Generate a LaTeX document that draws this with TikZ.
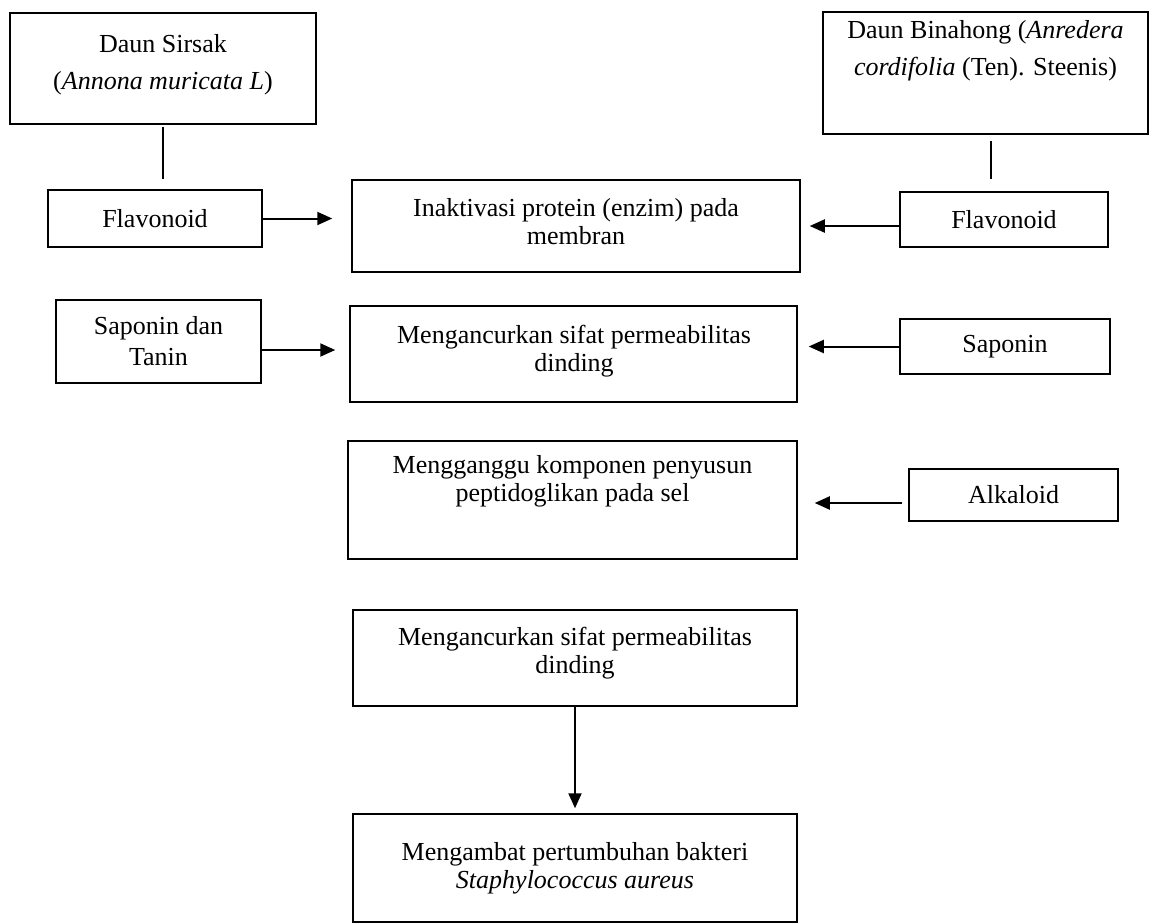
\documentclass[tikz,border=0pt]{standalone}
\usepackage{fontspec}
\setmainfont{Liberation Serif}
\usetikzlibrary{arrows.meta}
\begin{document}
\begin{tikzpicture}[x=1pt,y=-1pt,
  box/.style={draw, line width=1.5pt, inner sep=0pt},
  txt/.style={align=center, font=\fontsize{26}{28}\selectfont, inner sep=0pt},
  toptxt/.style={align=center, font=\fontsize{26}{37}\selectfont, inner sep=0pt},
  arr/.style={line width=2pt, -{Triangle[length=15pt,width=13pt]}},
  ln/.style={line width=1.5pt}]
\useasboundingbox (0,0) rectangle (1149,924);
% boxes
\node[box, minimum width=306pt, minimum height=111pt] (sirsak) at (163,68.5) {};
\node[box, minimum width=325pt, minimum height=122pt] (bin) at (985.5,73) {};
\node[box, minimum width=214pt, minimum height=57pt, txt] (flavL) at (155,218.5) {Flavonoid};
\node[box, minimum width=448pt, minimum height=92pt] (inak) at (576,226) {};
\node[box, minimum width=208pt, minimum height=55pt, txt] (flavR) at (1004,219.5) {Flavonoid};
\node[box, minimum width=205pt, minimum height=83pt, font=\fontsize{26}{31}\selectfont, align=center, inner sep=0pt] (tanin) at (158.5,341.5) {Saponin dan\\Tanin};
\node[box, minimum width=447pt, minimum height=96pt] (menc1) at (573.5,354) {};
\node[box, minimum width=210pt, minimum height=55pt, txt] (sapR) at (1005,346.5) {Saponin};
\node[box, minimum width=449pt, minimum height=118pt] (mengg) at (572.5,500) {};
\node[box, minimum width=209pt, minimum height=52pt, txt] (alk) at (1013.5,495) {Alkaloid};
\node[box, minimum width=444pt, minimum height=96pt] (menc2) at (575,658) {};
\node[box, minimum width=444pt, minimum height=108pt] (mengam) at (575,868) {};
% texts inside top-aligned boxes
\node[toptxt] (sirsakT) at (163,64.5) {Daun Sirsak\\(\textit{Annona muricata L})};
\node[toptxt] (binT) at (985.5,50.5) {Daun Binahong (\textit{Anredera}\\\textit{cordifolia} (Ten). Steenis)};
\node[txt] (inakT) at (576,221.5) {Inaktivasi protein (enzim) pada\\membran};
\node[txt] (menc1T) at (574,351) {Mengancurkan sifat permeabilitas\\dinding};
\node[txt] (menggT) at (572.5,481.5) {Mengganggu komponen penyusun\\peptidoglikan pada sel};
\node[txt] (menc2T) at (575,653.5) {Mengancurkan sifat permeabilitas\\dinding};
\node[txt] (mengamT) at (575,868) {Mengambat pertumbuhan bakteri\\\textit{Staphylococcus aureus}};
% connectors
\draw[ln, shorten <=2pt, shorten >=10pt] (sirsak.south) -- (sirsak.south |- flavL.north);
\draw[ln, shorten <=6pt, shorten >=12pt] ([xshift=5.5pt]bin.south) -- ([xshift=5.5pt]bin.south |- flavR.north);
\draw[arr, shorten >=19pt] (flavL.east) -- (flavL.east -| inak.west);
\draw[arr, shorten >=9pt] (flavR.west |- inak.center) -- (inak.east);
\draw[arr, shorten >=14pt] ([yshift=-8.5pt]tanin.east) -- ([yshift=-8.5pt]tanin.east -| menc1.west);
\draw[arr, shorten >=11pt] (sapR.west) -- (sapR.west -| menc1.east);
\draw[arr, shorten <=6pt, shorten >=17pt] ([yshift=-8pt]alk.west) -- ([yshift=-8pt]alk.west -| mengg.east);
\draw[arr, shorten >=5pt] (menc2.south) -- (mengam.north);
\end{tikzpicture}
\end{document}
